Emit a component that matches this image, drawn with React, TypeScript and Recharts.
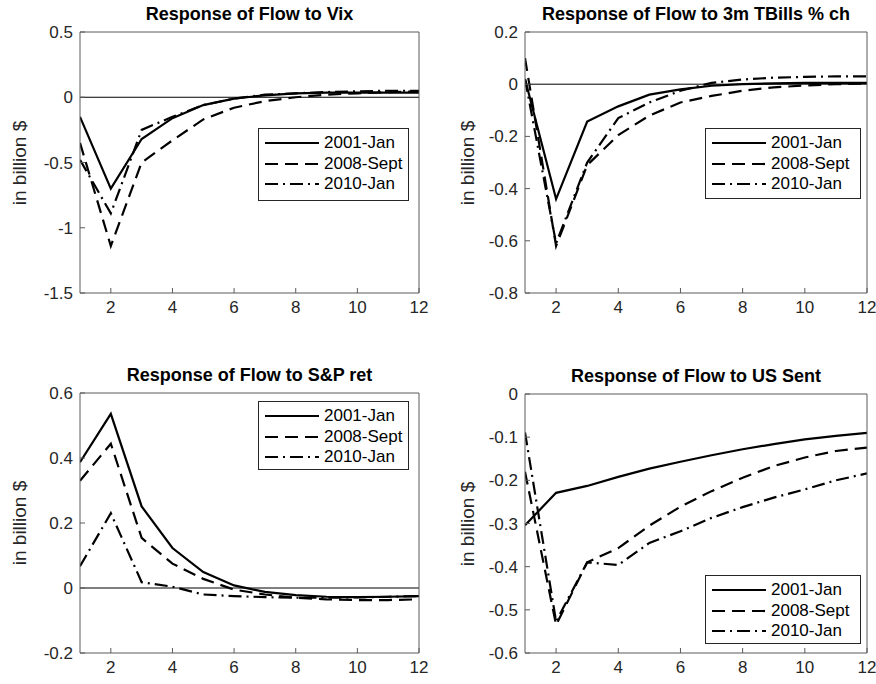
import React from 'react';
import { LineChart, Line, XAxis, YAxis, ReferenceLine } from 'recharts';

// horizon steps (months after shock)
const steps = [1, 2, 3, 4, 5, 6, 7, 8, 9, 10, 11, 12];
const xTicks = [2, 4, 6, 8, 10, 12];
const seriesNames = ['2001-Jan', '2008-Sept', '2010-Jan'];

// Response of Flow to Vix
const vixJan2001 = [-0.15, -0.7, -0.32, -0.16, -0.06, -0.01, 0.015, 0.03, 0.035, 0.035, 0.035, 0.035];
const vixSep2008 = [-0.35, -1.14, -0.5, -0.33, -0.17, -0.08, -0.03, 0.0, 0.02, 0.03, 0.04, 0.045];
const vixJan2010 = [-0.48, -0.89, -0.25, -0.15, -0.06, -0.01, 0.02, 0.03, 0.04, 0.045, 0.05, 0.05];
const vixTicks = [-1.5, -1, -0.5, 0, 0.5];

// Response of Flow to 3m TBills % ch
const tbJan2001 = [0.02, -0.44, -0.143, -0.085, -0.04, -0.02, -0.006, 0.0, 0.003, 0.005, 0.005, 0.005];
const tbSep2008 = [0.1, -0.62, -0.31, -0.195, -0.12, -0.07, -0.045, -0.025, -0.012, -0.005, 0.0, 0.003];
const tbJan2010 = [0.02, -0.61, -0.3, -0.13, -0.07, -0.025, 0.005, 0.018, 0.025, 0.028, 0.03, 0.03];
const tbTicks = [-0.8, -0.6, -0.4, -0.2, 0, 0.2];

// Response of Flow to S&P ret
const spJan2001 = [0.387, 0.536, 0.251, 0.123, 0.049, 0.008, -0.012, -0.022, -0.027, -0.028, -0.027, -0.025];
const spSep2008 = [0.33, 0.444, 0.154, 0.075, 0.028, -0.005, -0.02, -0.03, -0.035, -0.037, -0.037, -0.035];
const spJan2010 = [0.067, 0.23, 0.018, 0.004, -0.02, -0.025, -0.028, -0.03, -0.03, -0.029, -0.027, -0.025];
const spTicks = [-0.2, 0, 0.2, 0.4, 0.6];

// Response of Flow to US Sent
const usJan2001 = [-0.304, -0.229, -0.213, -0.192, -0.173, -0.157, -0.142, -0.128, -0.116, -0.105, -0.097, -0.09];
const usSep2008 = [-0.18, -0.535, -0.39, -0.357, -0.305, -0.261, -0.225, -0.194, -0.167, -0.147, -0.132, -0.124];
const usJan2010 = [-0.089, -0.527, -0.39, -0.396, -0.345, -0.318, -0.287, -0.262, -0.24, -0.221, -0.2, -0.184];
const usTicks = [-0.6, -0.5, -0.4, -0.3, -0.2, -0.1, 0];

const FONT = '"Liberation Sans", Arial, Helvetica, sans-serif';
const AXIS = '#5a5a5a';
const TEXT = '#262626';
const dashes = [undefined, '13 7', '13 5 2 5'];

const toRows = (a: number[], b: number[], c: number[]) =>
  steps.map((s, i) => ({ step: s, s0: a[i], s1: b[i], s2: c[i] }));

const panels = [
  {
    title: 'Response of Flow to Vix',
    rows: toRows(vixJan2001, vixSep2008, vixJan2010),
    yTicks: vixTicks,
    zero: true,
    plot: { left: 80, top: 32, width: 339, height: 261 },
    legend: { left: 258, top: 128, width: 151, height: 73 },
    ylabelX: 20,
  },
  {
    title: 'Response of Flow to 3m TBills % ch',
    rows: toRows(tbJan2001, tbSep2008, tbJan2010),
    yTicks: tbTicks,
    zero: true,
    plot: { left: 525, top: 32, width: 342, height: 261 },
    legend: { left: 705, top: 128, width: 156, height: 71 },
    ylabelX: 468,
  },
  {
    title: 'Response of Flow to S&P ret',
    rows: toRows(spJan2001, spSep2008, spJan2010),
    yTicks: spTicks,
    zero: true,
    plot: { left: 80, top: 393, width: 339, height: 260 },
    legend: { left: 258, top: 401, width: 151, height: 69 },
    ylabelX: 20,
  },
  {
    title: 'Response of Flow to US Sent',
    rows: toRows(usJan2001, usSep2008, usJan2010),
    yTicks: usTicks,
    zero: false,
    plot: { left: 525, top: 394, width: 342, height: 259 },
    legend: { left: 705, top: 575, width: 156, height: 69 },
    ylabelX: 468,
  },
];

function LegendBox({ box }: { box: { left: number; top: number; width: number; height: number } }) {
  return (
    <div
      style={{
        position: 'absolute',
        left: box.left,
        top: box.top,
        width: box.width,
        height: box.height,
        boxSizing: 'border-box',
        border: `1px solid ${TEXT}`,
        background: '#fff',
        paddingTop: 4,
      }}
    >
      {seriesNames.map((name, i) => (
        <div key={name} style={{ display: 'flex', alignItems: 'center', height: 20.5 }}>
          <svg width={62} height={10} style={{ marginLeft: 4 }}>
            <line x1={2} x2={56} y1={5} y2={5} stroke="#000" strokeWidth={2.2} strokeDasharray={dashes[i]} />
          </svg>
          <span style={{ fontSize: 17, color: '#000', fontFamily: FONT, marginLeft: -1 }}>{name}</span>
        </div>
      ))}
    </div>
  );
}

function Panel({ p }: { p: (typeof panels)[number] }) {
  const { plot } = p;
  const dom = [p.yTicks[0], p.yTicks[p.yTicks.length - 1]];
  const chartW = plot.width + 100;
  const chartH = plot.height + 80;
  return (
    <>
      <div style={{ position: 'absolute', left: plot.left - 80, top: plot.top - 40 }}>
        <LineChart width={chartW} height={chartH} data={p.rows} margin={{ top: 39, right: 19, left: 20, bottom: 10 }}>
          <XAxis
            dataKey="step"
            type="number"
            domain={[1, 12]}
            ticks={xTicks}
            allowDataOverflow
            height={30}
            tickSize={-5}
            tickMargin={13}
            stroke={AXIS}
            tick={{ fill: TEXT, fontSize: 17, fontFamily: FONT }}
          />
          <XAxis
            xAxisId="top"
            dataKey="step"
            type="number"
            orientation="top"
            domain={[1, 12]}
            ticks={xTicks}
            height={1}
            tickSize={-5}
            stroke={AXIS}
            tick={false}
          />
          <YAxis
            yAxisId="left"
            type="number"
            domain={dom}
            ticks={p.yTicks}
            allowDataOverflow
            width={60}
            tickSize={-5}
            tickMargin={12}
            stroke={AXIS}
            tick={{ fill: TEXT, fontSize: 17, fontFamily: FONT }}
          />
          <YAxis
            yAxisId="right"
            type="number"
            orientation="right"
            domain={dom}
            ticks={p.yTicks}
            width={1}
            tickSize={-5}
            stroke={AXIS}
            tick={false}
          />
          {p.zero && <ReferenceLine yAxisId="left" y={0} stroke="#000" strokeWidth={1} />}
          {seriesNames.map((name, i) => (
            <Line
              key={name}
              yAxisId="left"
              type="linear"
              dataKey={`s${i}`}
              name={name}
              stroke="#000"
              strokeWidth={2.2}
              strokeDasharray={dashes[i]}
              dot={false}
              isAnimationActive={false}
            />
          ))}
        </LineChart>
      </div>
      <div
        style={{
          position: 'absolute',
          left: plot.left - 20,
          width: plot.width + 40,
          top: plot.top - 28,
          textAlign: 'center',
          fontFamily: FONT,
          fontWeight: 'bold',
          fontSize: 18,
          color: '#000',
        }}
      >
        {p.title}
      </div>
      <div
        style={{
          position: 'absolute',
          left: p.ylabelX - 70,
          top: plot.top + plot.height / 2 - 12,
          width: 140,
          height: 24,
          lineHeight: '24px',
          textAlign: 'center',
          transform: 'rotate(-90deg)',
          fontFamily: FONT,
          fontSize: 19,
          color: TEXT,
        }}
      >
        in billion $
      </div>
      <LegendBox box={p.legend} />
    </>
  );
}

export default function App() {
  return (
    <div style={{ position: 'absolute', left: 0, top: 0, width: 876, height: 684, background: '#fff', overflow: 'hidden' }}>
      {panels.map((p) => (
        <Panel key={p.title} p={p} />
      ))}
    </div>
  );
}
